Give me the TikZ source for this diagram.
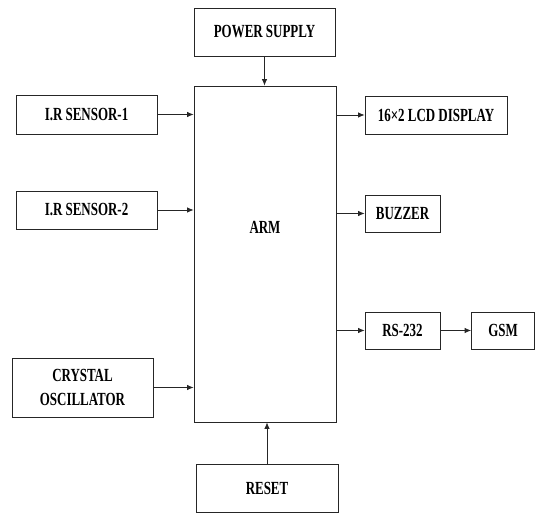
\documentclass[tikz,border=0pt]{standalone}
\usepackage{fontspec}
\setmainfont{Liberation Serif}[FakeStretch=0.70]
\usetikzlibrary{arrows.meta}
\begin{document}
\begin{tikzpicture}[x=1pt,y=1pt,
  blk/.style={draw=black!85, line width=0.8pt, rectangle, inner sep=0pt,
    font=\fontsize{18.5}{24}\selectfont\bfseries, align=center, text=black},
  conn/.style={draw=black!85, line width=0.8pt, -{Latex[length=6.5pt,width=5.5pt]}}]
\useasboundingbox (0,0) rectangle (536,513);
\node[blk, minimum width=141, minimum height=48] (power) at (264.5,481) {POWER SUPPLY};
\node[blk, minimum width=142, minimum height=336] (arm) at (265,259) {};
\node[font=\fontsize{18.5}{20}\selectfont\bfseries, text=black] (armlabel) at (265,286) {ARM};
\node[blk, minimum width=141, minimum height=39] (ir1) at (86.5,398.5) {I.R SENSOR-1};
\node[blk, minimum width=141, minimum height=38] (ir2) at (86.5,303) {I.R SENSOR-2};
\node[blk, minimum width=141, minimum height=59] (xtal) at (82.5,125.5) {CRYSTAL\\OSCILLATOR};
\node[blk, minimum width=142, minimum height=48] (reset) at (267,25) {RESET};
\node[blk, minimum width=142, minimum height=38] (lcd) at (436,398) {16×2 LCD DISPLAY};
\node[blk, minimum width=75, minimum height=37] (buzzer) at (402.5,299.5) {BUZZER};
\node[blk, minimum width=75, minimum height=37] (rs) at (402.5,182.5) {RS-232};
\node[blk, minimum width=63, minimum height=37] (gsm) at (503,182.5) {GSM};
\draw[conn] (power.south) -- (power.south |- arm.north);
\draw[conn] (reset.north) -- (reset.north |- arm.south);
\draw[conn] (ir1.east) -- (ir1.east -| arm.west);
\draw[conn] (ir2.east) -- (ir2.east -| arm.west);
\draw[conn] (xtal.east) -- (xtal.east -| arm.west);
\draw[conn] (lcd.west -| arm.east) -- (lcd.west);
\draw[conn] (buzzer.west -| arm.east) -- (buzzer.west);
\draw[conn] (rs.west -| arm.east) -- (rs.west);
\draw[conn] (rs.east) -- (gsm.west);
\end{tikzpicture}
\end{document}
